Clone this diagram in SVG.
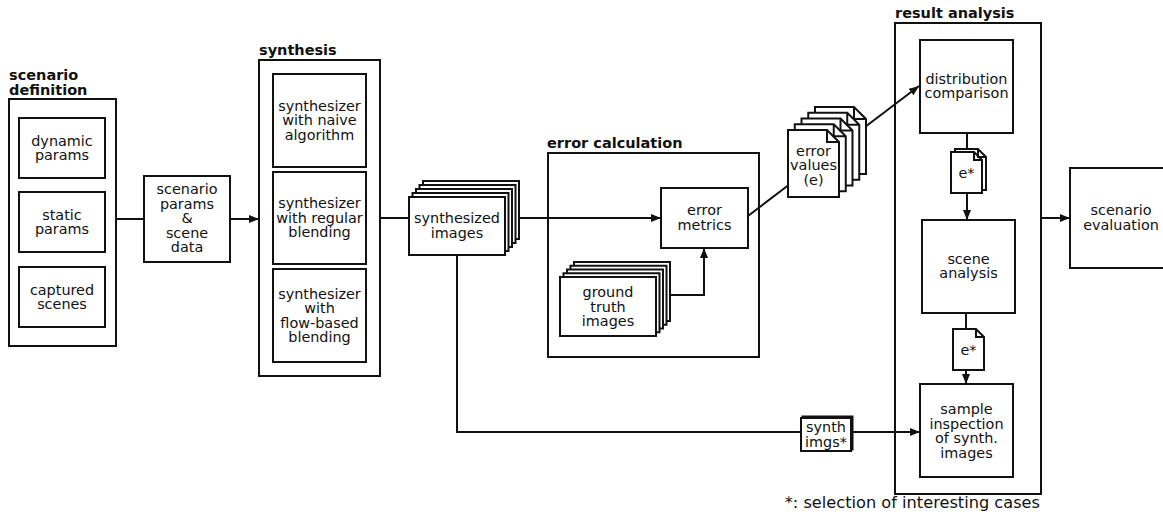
<svg xmlns="http://www.w3.org/2000/svg" width="1163" height="515" viewBox="0 0 1163 515">
  <defs>
    <style>
      .box { fill: #fff; stroke: #111; stroke-width: 2; }
      .grp { fill: none; stroke: #111; stroke-width: 2; }
      .lbl { font-family: "DejaVu Sans", Verdana, sans-serif; font-size: 14.4px; fill: #111; text-anchor: middle; }
      .ttl { font-family: "DejaVu Sans", Verdana, sans-serif; font-size: 14.5px; font-weight: bold; fill: #111; }
      .note { font-family: "DejaVu Sans", Verdana, sans-serif; font-size: 16.2px; fill: #111; text-anchor: end; }
      .wire { fill: none; stroke: #111; stroke-width: 2; }
      .arr { fill: none; stroke: #111; stroke-width: 2; marker-end: url(#head); }
    </style>
    <marker id="head" viewBox="0 0 10 8" refX="10" refY="4" markerWidth="10" markerHeight="8" markerUnits="userSpaceOnUse" orient="auto">
      <path d="M0,0 L10,4 L0,8 Z" fill="#111"/>
    </marker>
    <!-- page with folded corner -->
    <path id="doc51" d="M0,0 H39 L51,12 V67 H0 Z M39,0 V12 H51"/>
    <path id="doc31" d="M0,0 H23 L31,8 V41 H0 Z M23,0 V8 H31"/>
  </defs>

  <!-- connectors -->
  <g id="connectors">
    <path class="wire" d="M116,219 H144"/>
    <path class="arr" d="M230,219 H259"/>
    <path class="wire" d="M380,218 H409"/>
    <path class="arr" d="M505,218 H661"/>
    <path class="arr" d="M656,295 H704 V248"/>
    <path class="arr" d="M748,216 L919,86"/>
    <path class="wire" d="M967,133 V152"/>
    <path class="arr" d="M967,193 V220"/>
    <path class="wire" d="M966,313 V329"/>
    <path class="arr" d="M966,370 V384"/>
    <path class="wire" d="M457,255 V432 H801"/>
    <path class="arr" d="M851,432 H920"/>
    <path class="arr" d="M1041,218 H1070"/>
  </g>

  <!-- scenario definition -->
  <g id="scenario-definition">
    <text class="ttl" x="9" y="80">scenario</text>
    <text class="ttl" x="9" y="95">definition</text>
    <rect class="grp" x="9" y="99" width="107" height="247"/>
  </g>
  <g id="dynamic-params">
    <rect class="box" x="19" y="118" width="86" height="60"/>
    <text class="lbl" x="62" y="145.5">dynamic</text>
    <text class="lbl" x="62" y="160">params</text>
  </g>
  <g id="static-params">
    <rect class="box" x="19" y="192" width="86" height="60"/>
    <text class="lbl" x="62" y="219.5">static</text>
    <text class="lbl" x="62" y="234">params</text>
  </g>
  <g id="captured-scenes">
    <rect class="box" x="19" y="267" width="86" height="60"/>
    <text class="lbl" x="62" y="294.5">captured</text>
    <text class="lbl" x="62" y="309">scenes</text>
  </g>

  <g id="scenario-params">
    <rect class="box" x="144" y="176" width="86" height="86"/>
    <text class="lbl" x="187" y="194">scenario</text>
    <text class="lbl" x="187" y="208.5">params</text>
    <text class="lbl" x="187" y="223">&amp;</text>
    <text class="lbl" x="187" y="237.5">scene</text>
    <text class="lbl" x="187" y="252">data</text>
  </g>

  <!-- synthesis -->
  <g id="synthesis">
    <text class="ttl" x="259" y="55">synthesis</text>
    <rect class="grp" x="259" y="60" width="121" height="316"/>
  </g>
  <g id="synth-naive">
    <rect class="box" x="273" y="74" width="93" height="93"/>
    <text class="lbl" x="319.5" y="110.5">synthesizer</text>
    <text class="lbl" x="319.5" y="125">with naive</text>
    <text class="lbl" x="319.5" y="139.5">algorithm</text>
  </g>
  <g id="synth-regular">
    <rect class="box" x="273" y="172" width="93" height="92"/>
    <text class="lbl" x="319.5" y="208">synthesizer</text>
    <text class="lbl" x="319.5" y="222.5">with regular</text>
    <text class="lbl" x="319.5" y="237">blending</text>
  </g>
  <g id="synth-flow">
    <rect class="box" x="273" y="269" width="93" height="93"/>
    <text class="lbl" x="319.5" y="298.5">synthesizer</text>
    <text class="lbl" x="319.5" y="313">with</text>
    <text class="lbl" x="319.5" y="327.5">flow-based</text>
    <text class="lbl" x="319.5" y="342">blending</text>
  </g>

  <g id="synthesized-images">
    <rect class="box" x="423" y="181" width="96" height="58"/>
    <rect class="box" x="419.5" y="185" width="96" height="58"/>
    <rect class="box" x="416" y="189" width="96" height="58"/>
    <rect class="box" x="412.5" y="193" width="96" height="58"/>
    <rect class="box" x="409" y="197" width="96" height="58"/>
    <text class="lbl" x="457" y="223">synthesized</text>
    <text class="lbl" x="457" y="237.5">images</text>
  </g>

  <!-- error calculation -->
  <g id="error-calculation">
    <text class="ttl" x="547" y="148">error calculation</text>
    <rect class="grp" x="548" y="153" width="211" height="204"/>
  </g>
  <g id="error-metrics">
    <rect class="box" x="661" y="188" width="87" height="60"/>
    <text class="lbl" x="704.5" y="215">error</text>
    <text class="lbl" x="704.5" y="229.5">metrics</text>
  </g>
  <g id="ground-truth">
    <rect class="box" x="574" y="262" width="96" height="59"/>
    <rect class="box" x="570.5" y="265.75" width="96" height="59"/>
    <rect class="box" x="567" y="269.5" width="96" height="59"/>
    <rect class="box" x="563.5" y="273.25" width="96" height="59"/>
    <rect class="box" x="560" y="277" width="96" height="59"/>
    <text class="lbl" x="608" y="297">ground</text>
    <text class="lbl" x="608" y="311.5">truth</text>
    <text class="lbl" x="608" y="326">images</text>
  </g>

  <g id="error-values">
    <use href="#doc51" class="box" x="815" y="107"/>
    <use href="#doc51" class="box" x="808.25" y="112.75"/>
    <use href="#doc51" class="box" x="801.5" y="118.5"/>
    <use href="#doc51" class="box" x="794.75" y="124.25"/>
    <use href="#doc51" class="box" x="788" y="130"/>
    <text class="lbl" x="813.5" y="155.5">error</text>
    <text class="lbl" x="813.5" y="170">values</text>
    <text class="lbl" x="813.5" y="184.5">(e)</text>
  </g>

  <!-- result analysis -->
  <g id="result-analysis">
    <text class="ttl" x="895" y="18">result analysis</text>
    <rect class="grp" x="895" y="23" width="146" height="471"/>
  </g>
  <g id="distribution-comparison">
    <rect class="box" x="920" y="40" width="93" height="93"/>
    <text class="lbl" x="966.5" y="83.5">distribution</text>
    <text class="lbl" x="966.5" y="98">comparison</text>
  </g>
  <g id="e-star-1">
    <use href="#doc31" class="box" x="955" y="149"/>
    <use href="#doc31" class="box" x="951" y="152"/>
    <text class="lbl" x="966.5" y="178">e*</text>
  </g>
  <g id="scene-analysis">
    <rect class="box" x="922" y="220" width="93" height="93"/>
    <text class="lbl" x="968.5" y="263.5">scene</text>
    <text class="lbl" x="968.5" y="278">analysis</text>
  </g>
  <g id="e-star-2">
    <use href="#doc31" class="box" x="953" y="329"/>
    <text class="lbl" x="968.5" y="355">e*</text>
  </g>
  <g id="sample-inspection">
    <rect class="box" x="920" y="384" width="93" height="93"/>
    <text class="lbl" x="966.5" y="414">sample</text>
    <text class="lbl" x="966.5" y="428.5">inspection</text>
    <text class="lbl" x="966.5" y="443">of synth.</text>
    <text class="lbl" x="966.5" y="457.5">images</text>
  </g>

  <g id="synth-imgs">
    <rect class="box" x="802.5" y="416.5" width="50" height="33"/>
    <rect class="box" x="801" y="418" width="50" height="33"/>
    <text class="lbl" x="826" y="432">synth</text>
    <text class="lbl" x="826" y="446.5">imgs*</text>
  </g>

  <g id="scenario-evaluation">
    <rect class="box" x="1070" y="168" width="102" height="100"/>
    <text class="lbl" x="1121" y="215">scenario</text>
    <text class="lbl" x="1121" y="229.5">evaluation</text>
  </g>

  <text class="note" x="1040" y="508">*: selection of interesting cases</text>
</svg>
